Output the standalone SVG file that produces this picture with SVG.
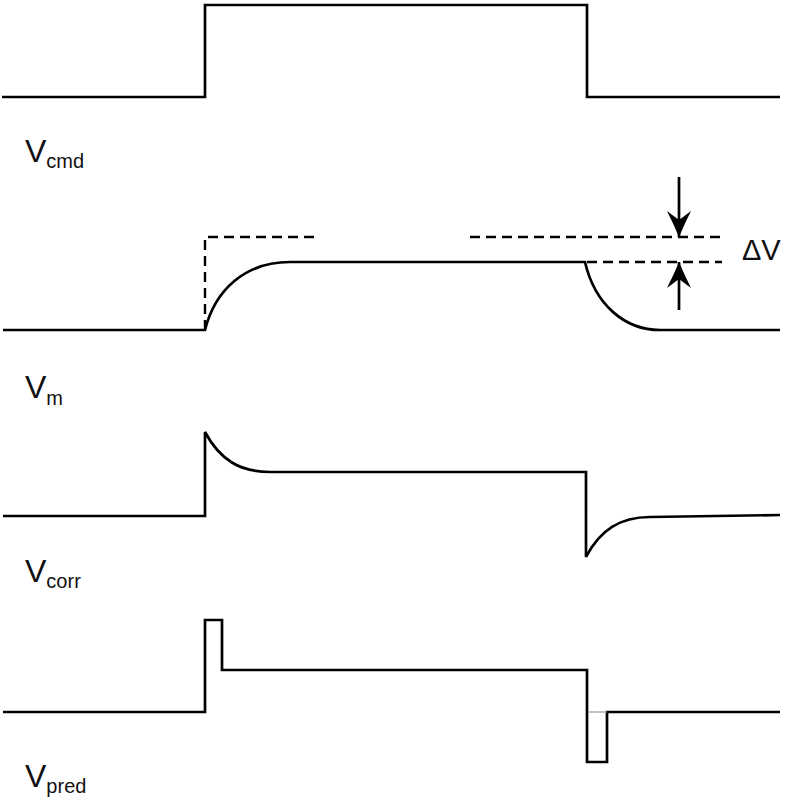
<svg xmlns="http://www.w3.org/2000/svg" width="796" height="800" viewBox="0 0 796 800">
<style>
.tr{fill:none;stroke:#000;stroke-width:2.7;stroke-linejoin:miter;stroke-linecap:butt}
.ds{fill:none;stroke:#000;stroke-width:2.4;stroke-dasharray:10,6}
.lb{font-family:"Liberation Sans",Arial,sans-serif;fill:#111}
.v{font-size:32px}
.s{font-size:20px}
</style>
<defs>
<marker id="ah" viewBox="0 0 26 24" refX="26" refY="12" markerWidth="26" markerHeight="24" markerUnits="userSpaceOnUse" orient="auto">
<path d="M26,12 Q14,7 0,0 L9,12 L0,24 Q14,17 26,12 Z" fill="#000"/>
</marker>
</defs>
<rect width="796" height="800" fill="#fff"/>
<g id="vcmd">
<path class="tr" d="M2,97 H205 V5 H587 V97 H780"/>
<text class="lb" x="25" y="162"><tspan class="v">V</tspan><tspan class="s" dy="6">cmd</tspan></text>
</g>
<g id="vm">
<path class="tr" d="M3,330 H205 C215,290 245,262 290,262 H585 C595,305 625,330 660,330 H780"/>
<path class="ds" d="M205,330 V237 H318"/>
<path class="ds" d="M470,237 H722"/>
<path class="ds" d="M587,262 H722"/>
<text class="lb" x="25" y="398"><tspan class="v">V</tspan><tspan class="s" dy="7">m</tspan></text>
</g>
<g id="vcorr">
<path class="tr" d="M3,516 H205 V432 C220,460 240,472 270,472 H586 V557 C600,530 620,517 650,517 L780,515"/>
<text class="lb" x="25" y="582"><tspan class="v">V</tspan><tspan class="s" dy="6">corr</tspan></text>
</g>
<g id="vpred">
<path class="tr" d="M3,712 H205 V620 H222 V670 H587 V762 H607 V712 H780"/>
<path d="M588,712 H607" fill="none" stroke="#999" stroke-width="1.2"/>
<text class="lb" x="25" y="787"><tspan class="v">V</tspan><tspan class="s" dy="6">pred</tspan></text>
</g>
<g id="connectors">
<path class="tr" d="M679,177 V237" marker-end="url(#ah)"/>
<path class="tr" d="M679,310 V262" marker-end="url(#ah)"/>
</g>
<g id="dv">
<text class="lb" x="742" y="260" font-size="29" fill="#222">ΔV</text>
</g>
</svg>
